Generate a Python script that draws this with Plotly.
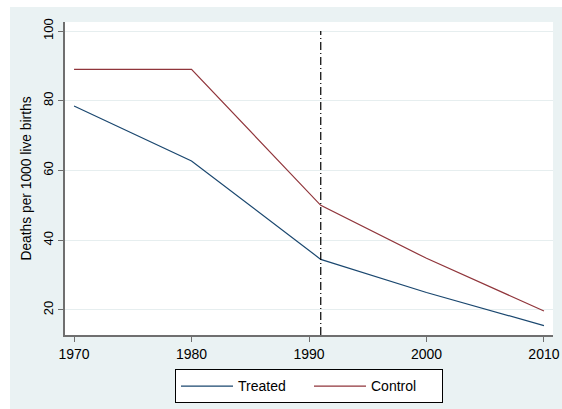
import plotly.graph_objects as go

# Infant mortality, treated vs control regions
years = [1970, 1980, 1991, 2000, 2010]
treated = [78.5, 62.7, 34.5, 25.0, 15.5]
control = [89.0, 89.0, 50.0, 34.8, 19.7]
intervention_year = 1991

y_ticks = [20, 40, 60, 80, 100]
x_ticks = [1970, 1980, 1990, 2000, 2010]

NAVY = "#1a476f"
MAROON = "#90353b"
BG = "#EAF2F3"
AXIS = "#6f6f6f"
FONT = "Liberation Sans, Arial, sans-serif"

fig = go.Figure()
fig.add_trace(go.Scatter(x=years, y=treated, mode="lines", name="Treated",
                         line=dict(color=NAVY, width=1.2)))
fig.add_trace(go.Scatter(x=years, y=control, mode="lines", name="Control",
                         line=dict(color=MAROON, width=1.2)))

y_range = [12.8, 102.6]

# Intervention marker
fig.add_shape(type="line", xref="x", yref="y",
              x0=intervention_year, x1=intervention_year,
              y0=y_range[0], y1=max(y_ticks),
              line=dict(color="black", width=1.2, dash="8px,3px,1px,3px"))

# White frame around the tinted graph region
fig.add_shape(type="rect", xref="paper", yref="paper", layer="below",
              x0=-0.2, x1=-0.1127, y0=-0.5, y1=1.2,
              fillcolor="white", line=dict(width=0))
fig.add_shape(type="rect", xref="paper", yref="paper", layer="below",
              x0=-0.2, x1=1.2, y0=1.0479, y1=1.2,
              fillcolor="white", line=dict(width=0))

fig.update_layout(
    width=562, height=409,
    margin=dict(l=65, r=9, t=22, b=74, autoexpand=False),
    paper_bgcolor=BG, plot_bgcolor="white",
    font=dict(family=FONT, color="black", size=12),
    showlegend=True,
    legend=dict(orientation="h", x=0.5, xanchor="center", y=-0.11, yanchor="top",
                bgcolor="white", bordercolor="black", borderwidth=1,
                font=dict(size=14), itemwidth=52,
                entrywidth=66, entrywidthmode="pixels"),
    xaxis=dict(range=[1969.23, 2010.77], tickvals=x_ticks, showgrid=False,
               zeroline=False, showline=True, linecolor=AXIS, linewidth=1.5,
               ticks="outside", ticklen=5, tickcolor=AXIS, tickwidth=1,
               tickfont=dict(size=14)),
    yaxis=dict(range=y_range, tickvals=y_ticks, showgrid=True,
               gridcolor="#E6EEEF", gridwidth=1, zeroline=False,
               showline=True, linecolor=AXIS, linewidth=1.5,
               ticks="outside", ticklen=5, tickcolor=AXIS, tickwidth=1,
               tickangle=-90, tickfont=dict(size=13),
               title=dict(text="Deaths per 1000 live births", font=dict(size=13.8),
                          standoff=6)),
)

fig.write_html("out.html")
